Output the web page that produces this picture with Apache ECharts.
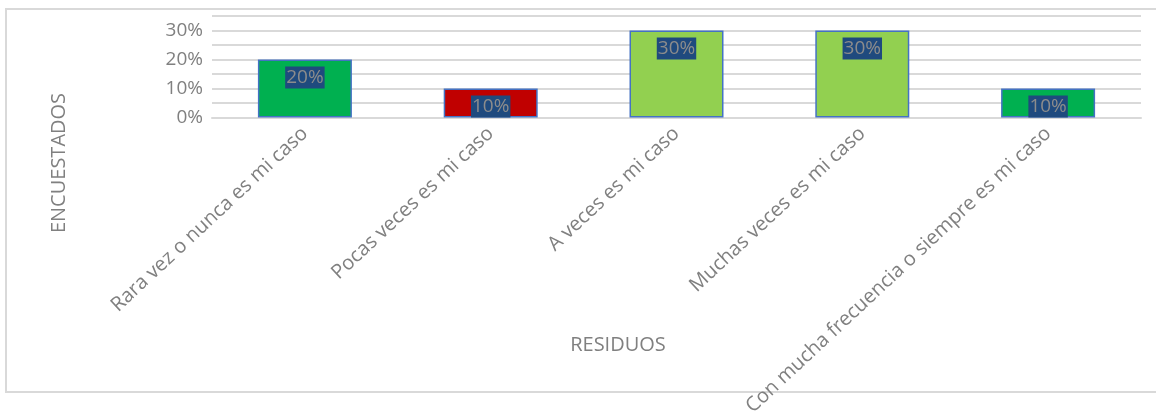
<!DOCTYPE html>
<html>
<head>
<meta charset="utf-8">
<script src="https://cdn.jsdelivr.net/npm/echarts@6/dist/echarts.min.js"></script>
<style>
html,body{margin:0;padding:0;background:#fff;}
#chart{width:1156px;height:416px;}
</style>
</head>
<body>
<div id="chart"></div>
<script>
const categories = [
  'Rara vez o nunca es mi caso',
  'Pocas veces es mi caso',
  'A veces es mi caso',
  'Muchas veces es mi caso',
  'Con mucha frecuencia o siempre es mi caso'
];
const values = [0.20, 0.10, 0.30, 0.30, 0.10];
const barColors = ['#00b050', '#c00000', '#92d050', '#92d050', '#00b050'];
const yAxisTitle = 'ENCUESTADOS';
const xAxisTitle = 'RESIDUOS';

const FONT = 'Open Sans';
const GRAY = '#808080';

const chart = echarts.init(document.getElementById('chart'), null, {renderer: 'canvas'});
chart.setOption({
  animation: false,
  backgroundColor: '#ffffff',
  grid: {left: 212, right: 15, top: 16, height: 101.5, containLabel: false, outerBoundsMode: 'none'},
  xAxis: {
    type: 'category',
    data: categories,
    boundaryGap: true,
    axisLine: {show: true, lineStyle: {color: '#d9d9d9', width: 2}},
    axisTick: {show: false},
    axisLabel: {
      interval: 0,
      rotate: 43,
      margin: 13,
      color: GRAY,
      fontFamily: FONT,
      fontSize: 20
    },
    splitLine: {show: false}
  },
  yAxis: {
    type: 'value',
    min: 0,
    max: 0.35,
    interval: 0.05,
    axisLine: {show: false},
    axisTick: {show: false},
    axisLabel: {
      margin: 9,
      color: GRAY,
      fontFamily: FONT,
      fontSize: 19,
      formatter: function (v) {
        const p = Math.round(v * 100);
        return (p % 10 === 0 && p <= 30) ? p + '%' : '';
      }
    },
    splitLine: {show: true, lineStyle: {color: '#d9d9d9', width: 2}}
  },
  series: [{
    type: 'bar',
    barWidth: 94,
    data: values.map(function (v, i) {
      return {value: v, itemStyle: {color: barColors[i]}};
    }),
    itemStyle: {borderColor: '#4472c4', borderWidth: 1.5},
    label: {
      show: true,
      position: 'insideTop',
      distance: 7,
      formatter: function (p) { return Math.round(p.value * 100) + '%'; },
      color: '#8c8c8c',
      fontFamily: FONT,
      fontSize: 19,
      lineHeight: 22,
      backgroundColor: '#1f4a7e',
      padding: [0, 1, 0, 1]
    }
  }],
  graphic: [
    {
      type: 'rect',
      z: -10,
      silent: true,
      shape: {x: 6, y: 9, width: 1170, height: 383},
      style: {fill: 'none', stroke: '#d9d9d9', lineWidth: 2}
    },
    {
      type: 'text',
      x: 59,
      y: 163,
      rotation: Math.PI / 2,
      style: {
        text: yAxisTitle,
        fill: GRAY,
        font: '20px "Open Sans"',
        align: 'center',
        verticalAlign: 'middle'
      }
    },
    {
      type: 'text',
      x: 618,
      y: 345,
      style: {
        text: xAxisTitle,
        fill: GRAY,
        font: '20px "Open Sans"',
        align: 'center',
        verticalAlign: 'middle'
      }
    }
  ]
});
</script>
</body>
</html>
